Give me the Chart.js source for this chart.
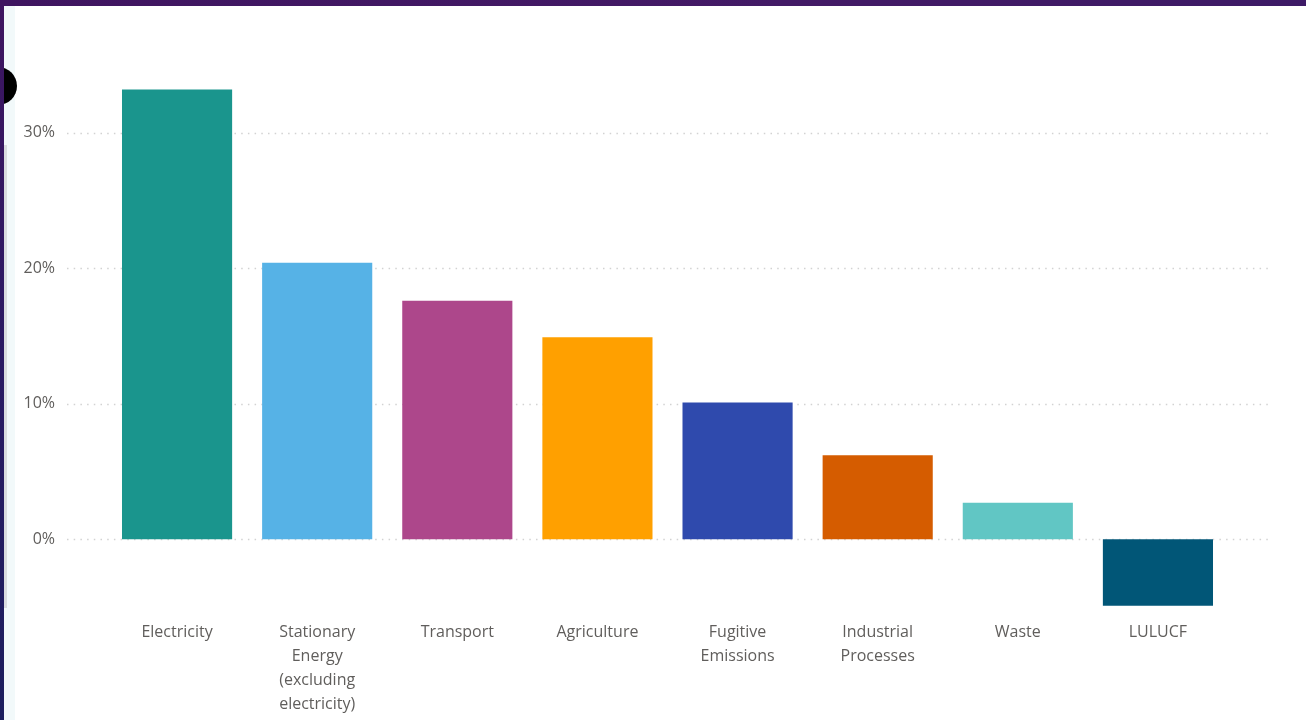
<!DOCTYPE html>
<html>
<head>
<meta charset="utf-8">
<script src="https://cdn.jsdelivr.net/npm/chart.js@4"></script>
<style>
  html, body { margin: 0; padding: 0; background: #ffffff; overflow: hidden; }
  #wrap { position: relative; width: 1306px; height: 720px; }
  #topband { position: absolute; left: 0; top: 0; width: 1306px; height: 6px;
             background: linear-gradient(90deg, #3f1560, #431a66 60%, #3d1a66); z-index: 3; }
  #leftband { position: absolute; left: 0; top: 0; width: 4px; height: 720px;
              background: linear-gradient(180deg, #3f1560, #2a1a63 50%, #1c1f5e); z-index: 3; }
  #paneStrip { position: absolute; left: 4px; top: 6px; width: 11px; height: 714px; background: #f2f9fa; }
  #scrollbar { position: absolute; left: 4px; top: 145px; width: 3px; height: 463px; background: #d9dcdf; }
  #dot { position: absolute; left: -21px; top: 67px; width: 38px; height: 38px; border-radius: 50%;
         background: #000; z-index: 2; }
  canvas { position: absolute; left: 0; top: 0; }
</style>
</head>
<body>
<div id="wrap">
  <div id="paneStrip"></div>
  <div id="scrollbar"></div>
  <canvas id="chart" width="1306" height="720"></canvas>
  <div id="dot"></div>
  <div id="topband"></div>
  <div id="leftband"></div>
</div>
<script>
// Share of emissions by sector (%)
const sectors = [
  'Electricity',
  ['Stationary', 'Energy', '(excluding', 'electricity)'],
  'Transport',
  'Agriculture',
  ['Fugitive', 'Emissions'],
  ['Industrial', 'Processes'],
  'Waste',
  'LULUCF'
];
const shares = [33.2, 20.4, 17.6, 14.9, 10.1, 6.2, 2.7, -4.9];
const sectorColors = ['#1a958d', '#56b2e6', '#ad478b', '#ffa000', '#2f4aad', '#d55c00', '#61c6c4', '#015677'];
const yTicks = [0, 10, 20, 30];

const FONT = '"Segoe UI", "Open Sans", "Noto Sans", sans-serif';
const TEXT = '#605e5c';

// dotted horizontal gridlines spanning wider than the plot area
const dottedGrid = {
  id: 'dottedGrid',
  beforeDatasetsDraw(chart) {
    const y = chart.scales.y;
    const ctx = chart.ctx;
    ctx.save();
    ctx.strokeStyle = '#d2d2d2';
    ctx.lineWidth = 1.5;
    ctx.setLineDash([1.5, 5.2]);
    y.ticks.forEach(t => {
      const py = Math.round(y.getPixelForValue(t.value)) + 0.5;
      ctx.beginPath();
      ctx.moveTo(67, py);
      ctx.lineTo(1273, py);
      ctx.stroke();
    });
    ctx.restore();
  }
};

new Chart(document.getElementById('chart'), {
  type: 'bar',
  data: {
    labels: sectors,
    datasets: [{
      data: shares,
      backgroundColor: sectorColors,
      borderWidth: 0,
      categoryPercentage: 1,
      barPercentage: 0.786
    }]
  },
  options: {
    responsive: false,
    animation: false,
    layout: { padding: { top: 65, right: 78, left: 0, bottom: 0 } },
    plugins: { legend: { display: false }, tooltip: { enabled: false } },
    scales: {
      x: {
        grid: { display: false, drawTicks: false },
        border: { display: false },
        afterFit(s) { s.height = 113; },
        ticks: {
          padding: 13,
          maxRotation: 0,
          autoSkip: false,
          color: TEXT,
          font: { family: FONT, size: 16, lineHeight: 1.5 }
        }
      },
      y: {
        min: -5,
        max: 35,
        afterBuildTicks(s) { s.ticks = yTicks.map(v => ({ value: v })); },
        afterFit(s) { s.width = 107; },
        grid: { display: false, drawTicks: false },
        border: { display: false },
        ticks: {
          padding: 52,
          color: TEXT,
          font: { family: FONT, size: 16 },
          callback: v => v + '%'
        }
      }
    }
  },
  plugins: [dottedGrid]
});
</script>
</body>
</html>
